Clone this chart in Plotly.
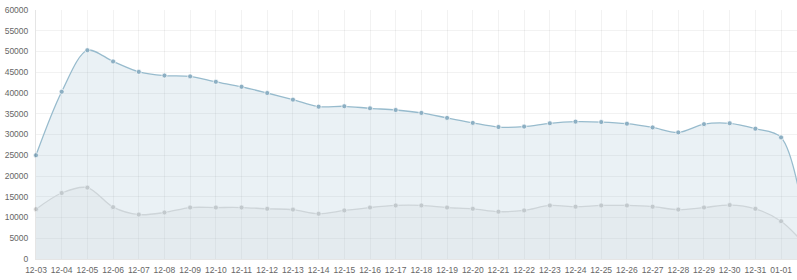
import plotly.graph_objects as go

dates = ["12-03", "12-04", "12-05", "12-06", "12-07", "12-08", "12-09", "12-10",
         "12-11", "12-12", "12-13", "12-14", "12-15", "12-16", "12-17", "12-18",
         "12-19", "12-20", "12-21", "12-22", "12-23", "12-24", "12-25", "12-26",
         "12-27", "12-28", "12-29", "12-30", "12-31", "01-01", "01-02"]

series_blue = [25000, 40300, 50300, 47600, 45100, 44200, 44000, 42700,
               41500, 40000, 38400, 36700, 36800, 36300, 35900, 35200,
               34000, 32800, 31800, 31900, 32700, 33100, 33000, 32600,
               31700, 30500, 32500, 32700, 31400, 29300, 6000]

series_grey = [12000, 15900, 17200, 12500, 10700, 11200, 12400, 12400,
               12400, 12100, 11900, 10900, 11700, 12400, 12900, 12900,
               12400, 12100, 11400, 11700, 12900, 12600, 12900, 12900,
               12600, 11900, 12400, 13000, 12100, 9100, 3000]

y_ticks = [0, 5000, 10000, 15000, 20000, 25000, 30000, 35000, 40000,
           45000, 50000, 55000, 60000]

fig = go.Figure()

fig.add_trace(go.Scatter(
    x=dates, y=series_grey, mode="lines+markers",
    line=dict(color="rgba(220,220,220,1)", width=1.3, shape="spline", smoothing=0.9),
    marker=dict(size=5, color="rgba(205,205,205,1)", line=dict(color="#fff", width=0.7)),
    fill="tozeroy", fillcolor="rgba(220,220,220,0.2)",
    cliponaxis=False, hoverinfo="skip",
))

fig.add_trace(go.Scatter(
    x=dates, y=series_blue, mode="lines+markers",
    line=dict(color="rgba(151,187,205,1)", width=1.3, shape="spline", smoothing=0.9),
    marker=dict(size=5, color="rgba(140,175,195,1)", line=dict(color="#fff", width=0.7)),
    fill="tozeroy", fillcolor="rgba(151,187,205,0.2)",
    cliponaxis=False, hoverinfo="skip",
))

fig.update_layout(
    width=797, height=280,
    margin=dict(l=36, r=0, t=10, b=21),
    paper_bgcolor="white", plot_bgcolor="white",
    showlegend=False,
    font=dict(family="Liberation Sans, Arial, sans-serif", size=8.5, color="#666"),
)

fig.update_xaxes(
    type="category", categoryorder="array", categoryarray=dates,
    range=[0, 29.62],
    showgrid=True, gridcolor="rgba(0,0,0,0.05)", gridwidth=1,
    showline=True, linecolor="rgba(0,0,0,0.1)", linewidth=1,
    ticks="", ticklabelstandoff=3, tickangle=0,
    zeroline=False,
)

fig.update_yaxes(
    range=[0, 60000], tickvals=y_ticks, ticktext=[str(v) for v in y_ticks],
    showgrid=True, gridcolor="rgba(0,0,0,0.05)", gridwidth=1,
    showline=True, linecolor="rgba(0,0,0,0.1)", linewidth=1,
    ticks="", ticklabelstandoff=5,
    zeroline=False,
)

fig.write_html("out.html")
